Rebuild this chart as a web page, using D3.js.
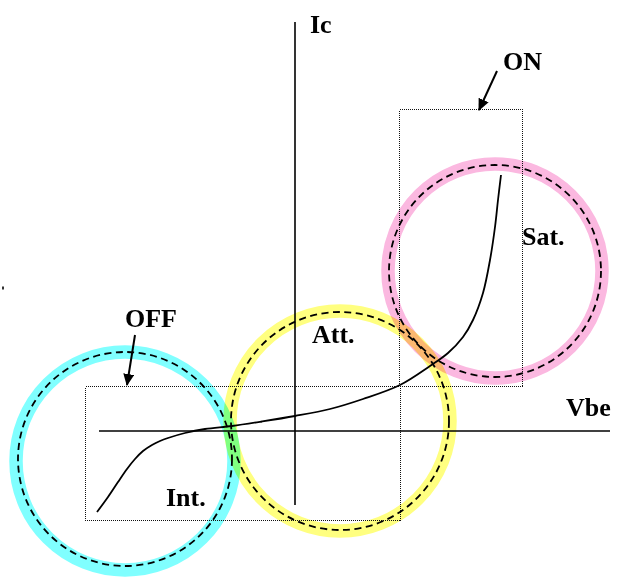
<!DOCTYPE html>
<html>
<head>
<meta charset="utf-8">
<script src="https://cdn.jsdelivr.net/npm/d3@7"></script>
<style>
  html, body { margin: 0; padding: 0; background: #fff; }
  svg { display: block; }
  .band { mix-blend-mode: multiply; }
  text { font-family: "Liberation Serif", "Times New Roman", serif; font-weight: bold; font-size: 26px; fill: #000; }
</style>
</head>
<body>
<svg id="chart" width="641" height="585"></svg>
<script>
// ---- data (arbitrary Vbe / Ic units, origin at axes crossing) ----
const curveVbe = [-19.8, -18.7, -17.7, -16.8, -16.0, -15.2, -14.3, -13.5, -12.7, -11.0, -9.0, -6.3, -3.3, 0.0, 3.5, 6.8, 10.5, 13.5, 15.3, 16.8, 17.8, 18.8, 19.5, 20.0, 20.3, 20.6];
const curveIc  = [-8.1, -6.6, -5.1, -3.8, -2.8, -2.0, -1.4, -1.0, -0.7, -0.2, 0.2, 0.5, 0.95, 1.5, 2.2, 3.2, 4.6, 6.5, 7.8, 9.4, 11.1, 13.8, 17.1, 20.4, 23.1, 25.6];

const regionNames  = ["OFF", "Att.", "Sat."];
const regionColors = ["#80ffff", "#ffff80", "#fbb8e0"];
const regionCx     = [-17.0, 4.5, 20.0];
const regionCy     = [-3.0, 1.0, 16.0];
const regionR      = [10.9, 11.0, 10.7];
const dashCx       = [-17.0, 4.5, 20.0];
const dashCy       = [-2.8, 1.0, 16.0];
const dashR        = [10.7, 10.9, 10.6];

const boxNames = ["OFF", "ON"];
const boxX0 = [-21.0, 10.4];
const boxX1 = [10.5, 22.7];
const boxY0 = [-8.9, 4.5];
const boxY1 = [4.5, 32.2];

const axisVbeRange = [-19.6, 31.5];
const axisIcRange  = [-7.4, 40.9];

const labelTexts = ["Ic", "Vbe", "OFF", "ON", "Int.", "Att.", "Sat."];
const labelX     = [1.5, 27.1, -17.0, 20.8, -12.9, 1.7, 22.7];
const labelY     = [39.8, 1.5, 10.4, 36.1, -7.5, 8.8, 18.6];

const arrowX0 = [-16.0, 20.2];
const arrowY0 = [9.6, 36.0];
const arrowX1 = [-16.8, 18.4];
const arrowY1 = [4.6, 32.1];

const stray = [{u: -29.2, v: 14.3}];

// ---- scales ----
const W = 641, H = 585;
const x = d3.scaleLinear().domain([-29.5, 34.6]).range([0, W]);
const y = d3.scaleLinear().domain([43.1, -15.4]).range([0, H]);
const rpx = r => x(r) - x(0);

const svg = d3.select("#chart");
svg.append("rect").attr("width", W).attr("height", H).attr("fill", "#fff");

// defs: arrow marker
svg.append("defs").append("marker")
  .attr("id", "ah").attr("viewBox", "0 0 12 11")
  .attr("refX", 11).attr("refY", 5.5)
  .attr("markerWidth", 12).attr("markerHeight", 11)
  .attr("orient", "auto").attr("markerUnits", "userSpaceOnUse")
  .append("path").attr("d", "M0,0 L12,5.5 L0,11 Z").attr("fill", "#000");

// coloured bands
const gBands = svg.append("g");
gBands.selectAll("circle").data(regionNames).join("circle")
  .attr("class", "band")
  .attr("cx", (d, i) => x(regionCx[i]))
  .attr("cy", (d, i) => y(regionCy[i]))
  .attr("r", (d, i) => rpx(regionR[i]))
  .attr("fill", "none")
  .attr("stroke", (d, i) => regionColors[i])
  .attr("stroke-width", 13.5);

// dotted boxes
svg.append("g").selectAll("rect").data(boxNames).join("rect")
  .attr("x", (d, i) => Math.round(x(boxX0[i])) + 0.5)
  .attr("y", (d, i) => Math.round(y(boxY1[i])) + 0.5)
  .attr("width", (d, i) => Math.round(x(boxX1[i]) - x(boxX0[i])))
  .attr("height", (d, i) => Math.round(y(boxY0[i]) - y(boxY1[i])))
  .attr("fill", "none")
  .attr("stroke", "#111")
  .attr("stroke-width", 1)
  .attr("shape-rendering", "crispEdges")
  .attr("stroke-dasharray", "1,1");

// dashed circles
svg.append("g").selectAll("circle").data(regionNames).join("circle")
  .attr("cx", (d, i) => x(dashCx[i]))
  .attr("cy", (d, i) => y(dashCy[i]))
  .attr("r", (d, i) => rpx(dashR[i]))
  .attr("fill", "none")
  .attr("stroke", "#000")
  .attr("stroke-width", 1.8)
  .attr("stroke-dasharray", "7,4.5");

// axes
const gAx = svg.append("g").attr("stroke", "#000").attr("stroke-width", 1.6);
gAx.append("line")
  .attr("x1", x(axisVbeRange[0])).attr("x2", x(axisVbeRange[1]))
  .attr("y1", y(0)).attr("y2", y(0));
gAx.append("line")
  .attr("x1", x(0)).attr("x2", x(0))
  .attr("y1", y(axisIcRange[0])).attr("y2", y(axisIcRange[1]));

// characteristic curve
const pts = curveVbe.map((v, i) => [v, curveIc[i]]);
svg.append("path")
  .datum(pts)
  .attr("d", d3.line().x(d => x(d[0])).y(d => y(d[1])).curve(d3.curveCatmullRom.alpha(0.5)))
  .attr("fill", "none")
  .attr("stroke", "#000")
  .attr("stroke-width", 1.8);

// arrows
svg.append("g").selectAll("line").data(arrowX0).join("line")
  .attr("x1", (d, i) => x(arrowX0[i]))
  .attr("y1", (d, i) => y(arrowY0[i]))
  .attr("x2", (d, i) => x(arrowX1[i]))
  .attr("y2", (d, i) => y(arrowY1[i]))
  .attr("stroke", "#000")
  .attr("stroke-width", 2)
  .attr("marker-end", "url(#ah)");

// labels
svg.append("g").selectAll("text").data(labelTexts).join("text")
  .attr("x", (d, i) => x(labelX[i]))
  .attr("y", (d, i) => y(labelY[i]))
  .text(d => d);

// stray mark
svg.append("g").selectAll("rect").data(stray).join("rect")
  .attr("x", d => x(d.u) - 1).attr("y", d => y(d.v) - 1.5)
  .attr("width", 2).attr("height", 3).attr("fill", "#333");
</script>
</body>
</html>
